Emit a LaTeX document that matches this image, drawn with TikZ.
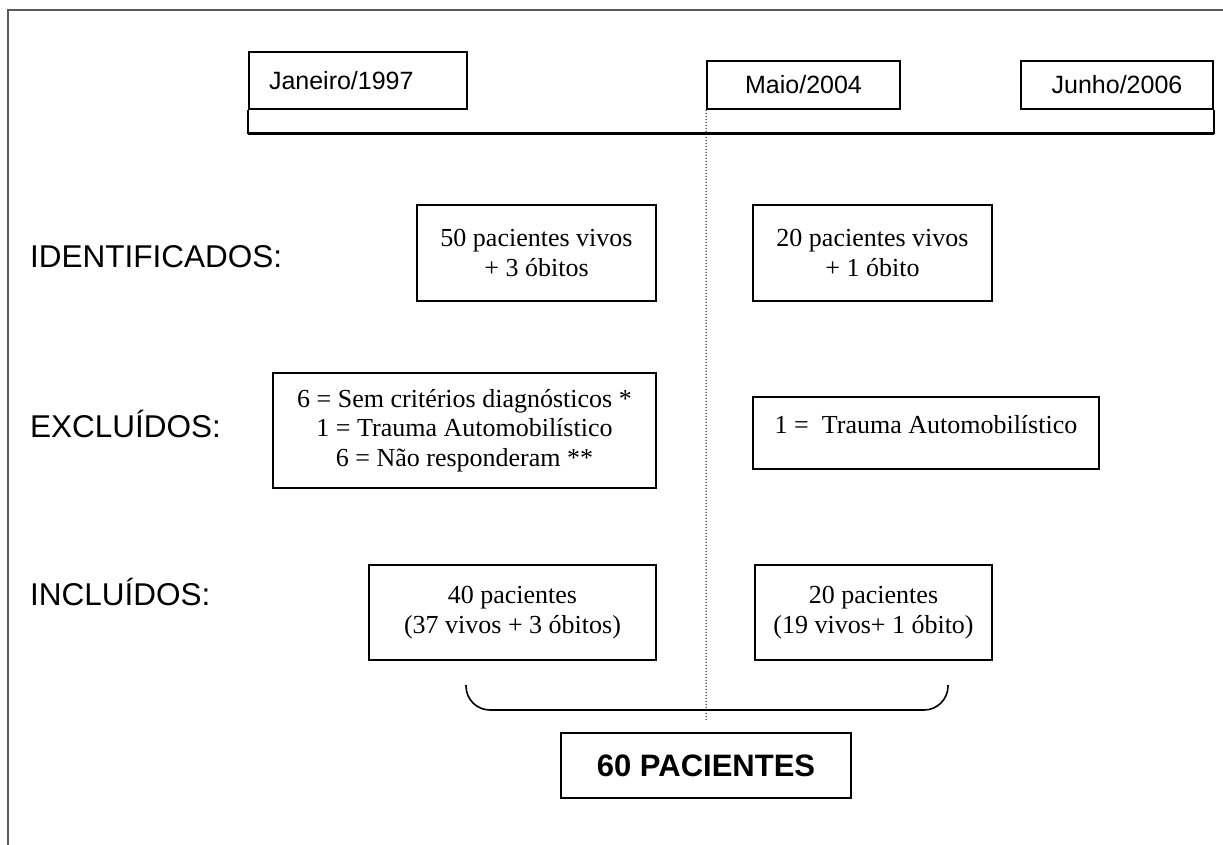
\documentclass[tikz,border=0pt]{standalone}
\usepackage{fontspec}
\setmainfont{Liberation Serif}
\newfontfamily\arialf{Liberation Sans}
\usetikzlibrary{positioning,calc}
\definecolor{frm}{HTML}{5A5A5A}
\tikzset{
  tbox/.style={draw,line width=1.6pt,align=center,inner sep=0pt,font=\fontsize{26}{29.5}\selectfont},
  dbox/.style={draw,line width=1.6pt,inner sep=0pt,font=\arialf\fontsize{25}{29}\selectfont},
  rowlbl/.style={anchor=base west,inner sep=0pt,font=\arialf\fontsize{31.5}{35}\selectfont},
  tline/.style={line width=1.6pt},
}

\begin{document}
\begin{tikzpicture}[x=1pt,y=-1pt]
\useasboundingbox (0,0) rectangle (1223,845);
% moldura
\draw[frm,line width=1.6pt] (8,845) -- (8,10) -- (1223,10);
% datas e linha do tempo
\node[dbox,minimum width=218pt,minimum height=57pt,text width=178pt,align=left] (jan) at (358,80.5) {Janeiro/1997};
\node[dbox,minimum width=193pt,minimum height=48pt] (maio) at (803.5,85) {Maio/2004};
\node[dbox,minimum width=192pt,minimum height=48pt] (jun) at (1117,85) {Junho/2006};
\draw[tline] (jan.south west) -- ++(0,24) coordinate (t0);
\draw[tline] (jun.south east) -- ++(0,24) coordinate (t1);
\draw[line width=2.8pt] (t0) -- (t1);
\coordinate (fim) at (706,720);
\draw[dotted,line width=1pt] (maio.south west) -- (fim);
% rotulos
\node[rowlbl] (lid) at (30,267) {IDENTIFICADOS:};
\node[rowlbl] (lex) at (30,437) {EXCLUÍDOS:};
\node[rowlbl] (lin) at (30,605) {INCLUÍDOS:};
% caixas
\node[tbox,minimum width=239pt,minimum height=96pt] (id1) at (536.5,253) {50 pacientes vivos\\+ 3 óbitos};
\node[tbox,minimum width=239pt,minimum height=96pt] (id2) at (872.5,253) {20 pacientes vivos\\+ 1 óbito};
\node[tbox,minimum width=383pt,minimum height=115pt] (ex1) at (464.5,430.5) {6 = Sem critérios diagnósticos *\\1 = Trauma Automobilístico\\6 = Não responderam **};
\node[tbox,minimum width=346pt,minimum height=72pt,text height=18pt,text depth=18pt] (ex2) at (926,433) {1 =\ \ Trauma Automobilístico};
\node[tbox,minimum width=287pt,minimum height=95pt] (in1) at (512.5,612.5) {40 pacientes\\(37 vivos + 3 óbitos)};
\node[tbox,minimum width=237pt,minimum height=95pt] (in2) at (873.5,612.5) {20 pacientes\\(19 vivos+ 1 óbito)};
% chave e total
\coordinate (cl) at (466,685);
\coordinate (cr) at (948,685);
\draw[line width=1.6pt,rounded corners=24pt] (cl) -- (466,710) -- (948,710) -- (cr);
\node[dbox,font=\arialf\bfseries\fontsize{31}{35}\selectfont,minimum width=290pt,minimum height=65pt] (tot) at (706,765.5) {60 PACIENTES};
\end{tikzpicture}
\end{document}
